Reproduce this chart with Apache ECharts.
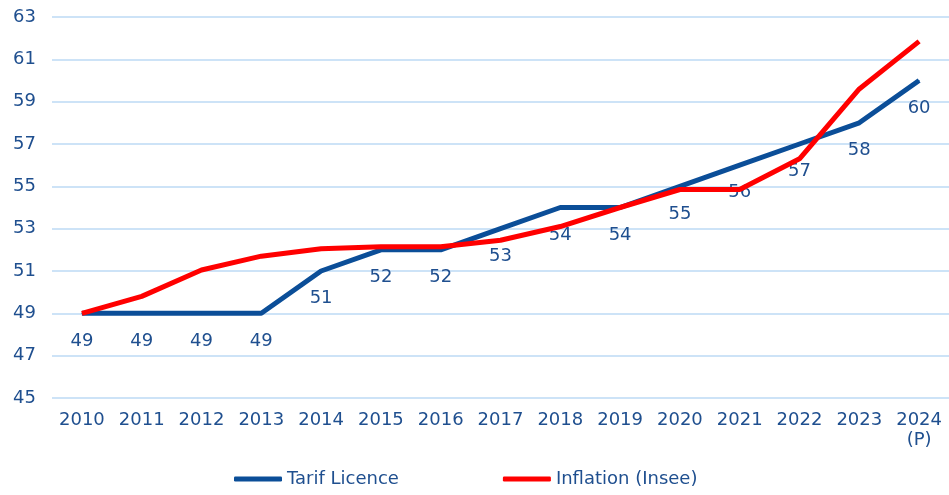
<!DOCTYPE html>
<html>
<head>
<meta charset="utf-8">
<script src="https://cdn.jsdelivr.net/npm/echarts@6/dist/echarts.min.js"></script>
<style>
  html, body { margin: 0; padding: 0; background: #fff; }
  #chart { width: 949px; height: 495px; }
</style>
</head>
<body>
<div id="chart"></div>
<script>
const years = ['2010', '2011', '2012', '2013', '2014', '2015', '2016', '2017', '2018', '2019', '2020', '2021', '2022', '2023', '2024\n(P)'];
const tarifLicence = [49, 49, 49, 49, 51, 52, 52, 53, 54, 54, 55, 56, 57, 58, 60];
const inflation = [49, 49.8, 51.05, 51.7, 52.05, 52.15, 52.15, 52.45, 53.1, 54.0, 54.85, 54.85, 56.3, 59.6, 61.85];

const textColor = '#1f4f8f';
const font = 'DejaVu Sans';

const chart = echarts.init(document.getElementById('chart'));
let option = {
  animation: false,
  textStyle: { fontFamily: font },
  grid: { left: 52, right: 0, top: 17, bottom: 97 },
  legend: {
    bottom: 2,
    left: 229,
    itemWidth: 48,
    itemHeight: 5,
    itemGap: 104,
    icon: 'roundRect',
    textStyle: { color: textColor, fontSize: 18, fontFamily: font },
    data: ['Tarif Licence', 'Inflation (Insee)']
  },
  xAxis: {
    type: 'category',
    data: years,
    boundaryGap: true,
    axisLine: { show: false },
    axisTick: { show: false },
    axisLabel: { color: textColor, fontSize: 18, margin: 12, lineHeight: 20, fontFamily: font }
  },
  yAxis: {
    type: 'value',
    min: 45,
    max: 63,
    interval: 2,
    axisLine: { show: false },
    axisTick: { show: false },
    axisLabel: { color: textColor, fontSize: 18, margin: 16, fontFamily: font },
    splitLine: { lineStyle: { color: '#cde3f7', width: 2 } }
  },
  series: [
    {
      name: 'Tarif Licence',
      type: 'line',
      data: tarifLicence,
      symbol: 'circle',
      symbolSize: 1,
      showSymbol: true,
      color: '#0b4e98',
      lineStyle: { width: 5, color: '#0b4e98' },
      label: {
        show: true,
        position: 'bottom',
        distance: 18,
        color: textColor,
        fontSize: 18,
        fontFamily: font
      },
      z: 2
    },
    {
      name: 'Inflation (Insee)',
      type: 'line',
      data: inflation,
      symbol: 'none',
      color: '#ff0000',
      lineStyle: { width: 5, color: '#ff0000' },
      z: 3
    }
  ]
};
chart.setOption(option);
</script>
</body>
</html>
